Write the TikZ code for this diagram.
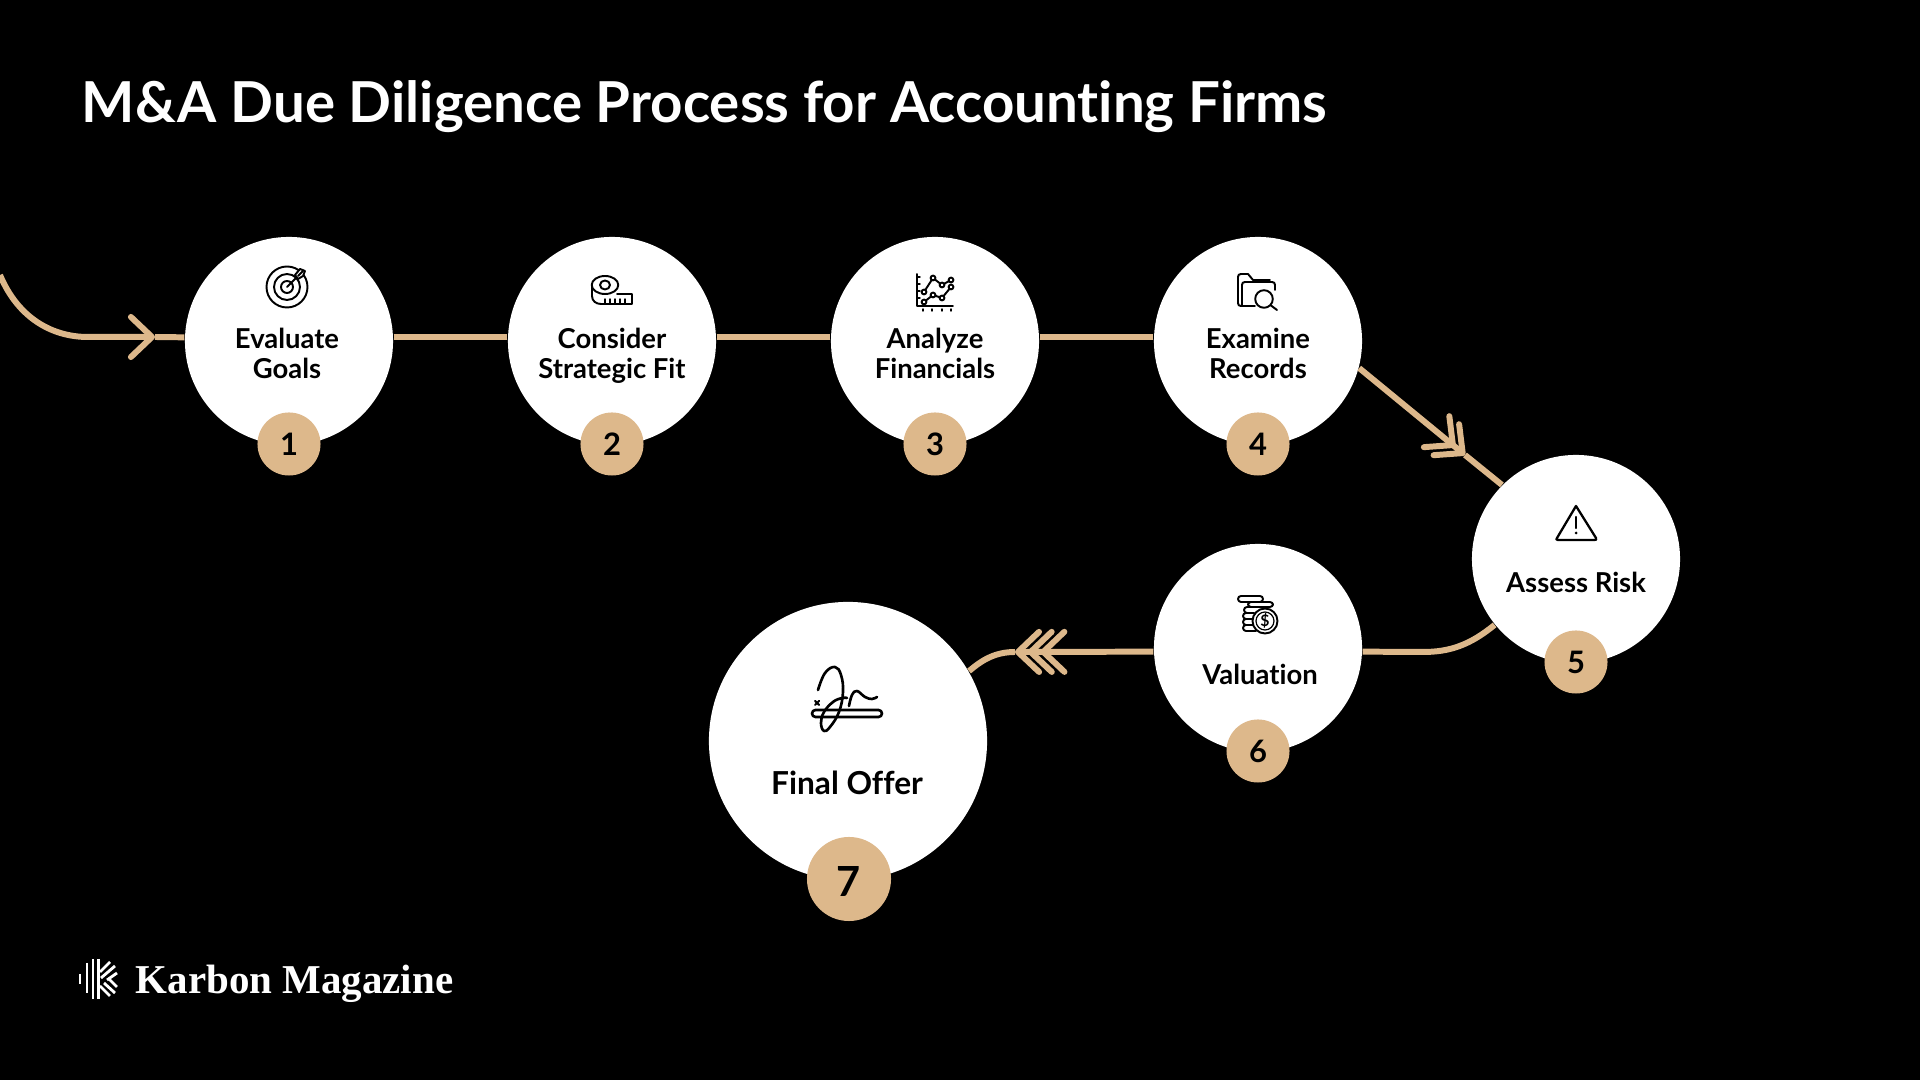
\documentclass[tikz,border=0pt]{standalone}
\usepackage{fontspec}
\setmainfont{Lato}[Ligatures=CommonOff]
\newfontfamily\logofont{Liberation Serif}
\usetikzlibrary{arrows.meta}
\definecolor{karbontan}{HTML}{DDB88B}
\tikzset{
    stage/.style={shape=circle,fill=white,minimum size=2.08cm,inner sep=0pt},
    bigstage/.style={shape=circle,fill=white,minimum size=2.78cm,inner sep=0pt},
    badge/.style={shape=circle,fill=karbontan,text=black,minimum size=0.63cm,inner sep=0pt,font=\bfseries\fontsize{8.8}{10}\selectfont},
    bigbadge/.style={shape=circle,fill=karbontan,text=black,minimum size=0.84cm,inner sep=0pt,font=\bfseries\fontsize{11.8}{14}\selectfont},
    caption/.style={text=black,align=center,inner sep=0pt,anchor=base,font=\bfseries\fontsize{7.8}{8.6}\selectfont},
    flow/.style={draw=karbontan,line width=1.7pt},
    barb/.tip={Straight Barb[length=6pt,width=11.4pt,round]},
    backbarb/.tip={Straight Barb[length=6pt,width=11.4pt,round,sep=-4.1pt]},
    iconline/.style={draw=black,line width=0.55pt,line cap=round,line join=round},
    logoline/.style={draw=white,line width=0.8pt}
}
\begin{document}
\begin{tikzpicture}[x=0.01cm,y=-0.01cm]
    \useasboundingbox (0,0) rectangle (1920,1080);
    \fill[black] (0,0) rectangle (1920,1080);

    \node[text=white,inner sep=0pt,anchor=base west,font=\bfseries\fontsize{16.05}{20}\selectfont] (title) at (81,123) {M\&A Due Diligence Process for Accounting Firms};

    \node[stage] (S1) at (289,341) {};
    \node[stage] (S2) at (612,341) {};
    \node[stage] (S3) at (935,341) {};
    \node[stage] (S4) at (1258,341) {};
    \node[stage] (S5) at (1576,559) {};
    \node[stage] (S6) at (1258,648) {};
    \node[bigstage] (S7) at (848,741) {};

    \node[badge] (B1) at (289,444) {1};
    \node[badge] (B2) at (612,444) {2};
    \node[badge] (B3) at (935,444) {3};
    \node[badge] (B4) at (1258,444) {4};
    \node[badge] (B5) at (1576,662) {5};
    \node[badge] (B6) at (1258,751) {6};
    \node[bigbadge] (B7) at (849,879) {\raisebox{-0.7pt}[8.5pt][0pt]{7}};

    \node[caption] (T1) at (287,379) {Evaluate\\Goals};
    \node[caption] (T2) at (612,379) {Consider\\Strategic Fit};
    \node[caption] (T3) at (935,379) {Analyze\\Financials};
    \node[caption] (T4) at (1258,379) {Examine\\Records};
    \node[caption] (T5) at (1576,593) {Assess Risk};
    \node[caption] (T6) at (1260,685) {Valuation};
    \node[caption,font=\bfseries\fontsize{9}{10}\selectfont] (T7) at (847,795) {Final Offer};

    % connectors
    \coordinate (start) at (0,275);
    \coordinate (tipone) at (155,337);
    \coordinate (tipfour) at (1465,455);
    \coordinate (tipsix) at (1015,652);

    \draw[flow,-{barb[]}] (start) .. controls (18,318) and (52,337) .. (88,337) -- (tipone);
    \draw[flow] (tipone) -- (S1.178);
    \draw[flow] (S1.2) -- (S2.178);
    \draw[flow] (S2.2) -- (S3.178);
    \draw[flow] (S3.2) -- (S4.178);
    \draw[flow,-{backbarb[]barb[]}] (S4.-15) -- (tipfour);
    \draw[flow] (tipfour) -- (S5.135);
    \draw[flow] (S5.219) .. controls (1470,645) and (1450,652) .. (1423,652) -- (S6.-2);
    \draw[flow,-{backbarb[]backbarb[]barb[]}] (S6.182) -- (tipsix);
    \draw[flow] (tipsix) .. controls (995,652) and (982,660) .. (S7.30);

    % target
    \draw[iconline] (287,287) circle (20.5);
    \draw[iconline] (287,287) circle (13);
    \draw[iconline] (287,287) circle (6);
    \draw[iconline] (287,287) -- (298,276);
    \draw[iconline,fill=white] (295,275) -- (300,269) -- (305,271) -- (303,276) -- (298,279) -- cycle;
    \draw[iconline] (298,276) -- (303,271);

    % tape
    \draw[iconline] (605,285) ellipse (13.3 and 9);
    \draw[iconline] (605,285) ellipse (5 and 4.5);
    \draw[iconline] (592,285) -- (592,296) .. controls (592,301) and (596,304) .. (601,304) -- (632,304) -- (632,294) -- (617,294);
    \foreach \tx in {605,610,615,620,625} \draw[iconline,line width=0.4pt] (\tx,304) -- (\tx,299);

    % chart
    \draw[iconline] (917,274) -- (917,306) -- (953,306);
    \foreach \ty in {277,284,291,298} \draw[iconline,line width=0.4pt] (917,\ty) -- (920,\ty);
    \foreach \tx in {923,932,942,951} \draw[iconline,line width=0.4pt] (\tx,309) -- (\tx,311);
    \draw[iconline] (924,292) -- (933,278) -- (942,285) -- (951,280);
    \draw[iconline] (924,302) -- (933,295) -- (942,298) -- (951,287);
    \foreach \px/\py in {924/292,933/278,942/285,951/280,924/302,933/295,942/298,951/287}
        \draw[iconline,fill=white] (\px,\py) circle (2.4);

    % folder
    \draw[iconline] (1255,306) -- (1241,306) .. controls (1239,306) and (1238,305) .. (1238,303) -- (1238,277) .. controls (1238,275) and (1239,274) .. (1241,274) -- (1248,274) -- (1253,280) -- (1270,280);
    \draw[iconline] (1242,306) -- (1242,285) .. controls (1242,283) and (1243,282) .. (1245,282) -- (1272,282) .. controls (1274,282) and (1275,283) .. (1275,285) -- (1275,290);
    \draw[iconline,fill=white] (1264,299) circle (8.8);
    \draw[iconline] (1271,305.5) -- (1277,310);

    % warning sign
    \draw[iconline,line width=0.65pt] (1576,506) -- (1596,538) .. controls (1597,540) and (1596,540) .. (1594,540) -- (1558,540) .. controls (1556,540) and (1556,539) .. (1557,538) -- cycle;
    \draw[iconline,line width=0.65pt] (1576,517) -- (1576,528);
    \fill[black] (1576,533) circle (1.5);

    % coins
    \draw[iconline,fill=white,rounded corners=0.03cm] (1238,596) rectangle (1263,602);
    \draw[iconline,fill=white,rounded corners=0.03cm] (1248,602) rectangle (1273,607);
    \draw[iconline,rounded corners=0.03cm] (1254,607) -- (1244,607) -- (1244,613) -- (1254,613);
    \draw[iconline,rounded corners=0.03cm] (1254,613) -- (1243,613) -- (1243,619) -- (1254,619);
    \draw[iconline,rounded corners=0.03cm] (1254,619) -- (1243,619) -- (1243,625) -- (1254,625);
    \draw[iconline,rounded corners=0.03cm] (1254,625) -- (1243,625) -- (1243,631) -- (1256,631);
    \draw[iconline,fill=white] (1265,621) circle (12.5);
    \draw[iconline,line width=0.35pt] (1265,621) circle (9);
    \node[text=black,inner sep=0pt,font=\bfseries\fontsize{4.5}{5}\selectfont] (dollar) at (1265,621) {\$};

    % signature
    \draw[iconline,line width=0.75pt,rounded corners=0.035cm] (812,710) rectangle (882,717);
    \draw[iconline,line width=0.75pt] plot[smooth,tension=0.7] coordinates {(818,690) (825,673) (835,667) (841,675) (843,692) (839,712) (830,727) (824,731) (821,723) (824,712) (833,702) (842,698) (847,698)};
    \draw[iconline,line width=0.75pt] plot[smooth,tension=0.7] coordinates {(849,706) (852,695) (857,691) (865,697) (872,699) (877,697)};
    \draw[iconline,line width=0.6pt] (815,701) -- (819,705) (819,701) -- (815,705);

    % logo
    \draw[logoline] (80,974) -- (80,984);
    \draw[logoline] (87,963) -- (87,993);
    \draw[logoline] (93,959) -- (93,999);
    \draw[logoline] (98.5,959) -- (98.5,999);
    \draw[logoline] (100,972) -- (110,962);
    \draw[logoline] (101,978) -- (115,966);
    \draw[logoline] (107,980) -- (117,973);
    \draw[logoline] (100,986) -- (110,996);
    \draw[logoline] (104,983) -- (115,993);
    \draw[logoline] (109,979) -- (117,987);
    \node[text=white,inner sep=0pt,anchor=base west,font=\logofont\bfseries\fontsize{11.65}{13}\selectfont] (logo) at (135,994) {Karbon Magazine};
\end{tikzpicture}
\end{document}
